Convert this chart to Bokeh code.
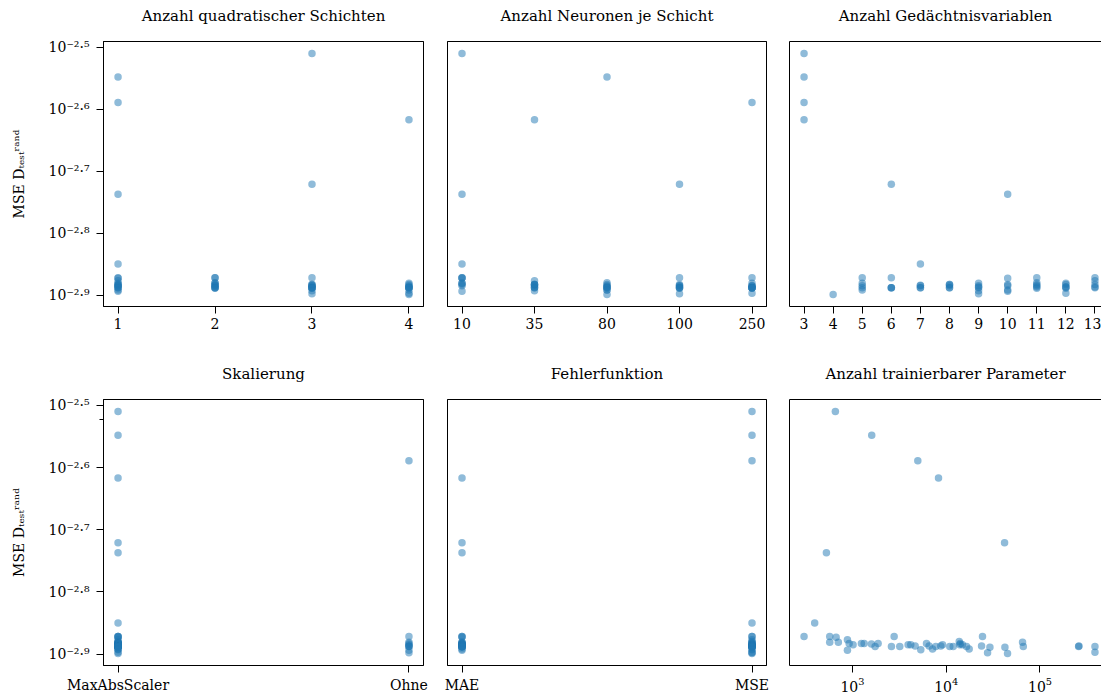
from bokeh.plotting import figure
from bokeh.layouts import row, column
from bokeh.models import FixedTicker, CustomJSTickFormatter, Range1d, LinearAxis, AllLabels
from bokeh.embed import file_html
from bokeh.resources import INLINE

# ---------------- data (one entry per trained model) ----------------
quad_layers = [3, 1, 1, 4, 3, 1, 1, 2, 1, 1,
               2, 3, 1, 2, 1, 2, 4, 1, 2, 3,
               4, 1, 3, 2, 1, 3, 4, 2, 3, 1,
               2, 4, 3, 1, 4, 3, 4, 1, 2, 3,
               4, 2, 1, 3, 4, 2, 3, 4, 1, 3,
               1, 4, 3, 4]
neurons = [10, 80, 250, 35, 100, 10, 10, 10, 10, 10,
           100, 250, 35, 80, 10, 10, 250, 10, 35, 35,
           35, 100, 80, 35, 10, 100, 80, 100, 250, 250,
           35, 80, 80, 100, 250, 35, 35, 80, 100, 80,
           100, 250, 250, 250, 250, 100, 250, 80, 80, 35,
           10, 250, 100, 80]
memory_vars = [3, 3, 3, 3, 6, 10, 7, 5, 6, 10,
               11, 13, 13, 11, 5, 9, 12, 8, 11, 13,
               12, 10, 8, 7, 5, 7, 8, 10, 9, 11,
               9, 12, 13, 11, 12, 6, 8, 7, 6, 5,
               8, 7, 6, 13, 9, 11, 12, 5, 10, 9,
               10, 12, 9, 4]
scaler = ["MaxAbsScaler", "MaxAbsScaler", "Ohne", "MaxAbsScaler", "MaxAbsScaler",
          "MaxAbsScaler", "MaxAbsScaler", "Ohne", "MaxAbsScaler", "MaxAbsScaler",
          "MaxAbsScaler", "MaxAbsScaler", "MaxAbsScaler", "MaxAbsScaler", "MaxAbsScaler",
          "Ohne", "MaxAbsScaler", "MaxAbsScaler", "MaxAbsScaler", "MaxAbsScaler",
          "Ohne", "MaxAbsScaler", "MaxAbsScaler", "MaxAbsScaler", "MaxAbsScaler",
          "Ohne", "MaxAbsScaler", "MaxAbsScaler", "MaxAbsScaler", "MaxAbsScaler",
          "MaxAbsScaler", "MaxAbsScaler", "Ohne", "MaxAbsScaler", "MaxAbsScaler",
          "MaxAbsScaler", "MaxAbsScaler", "MaxAbsScaler", "Ohne", "MaxAbsScaler",
          "MaxAbsScaler", "MaxAbsScaler", "Ohne", "MaxAbsScaler", "MaxAbsScaler",
          "MaxAbsScaler", "MaxAbsScaler", "MaxAbsScaler", "MaxAbsScaler", "MaxAbsScaler",
          "Ohne", "MaxAbsScaler", "Ohne", "MaxAbsScaler"]
loss_fn = ["MSE", "MSE", "MSE", "MAE", "MAE", "MAE", "MSE", "MAE", "MSE", "MAE",
           "MSE", "MAE", "MSE", "MSE", "MAE", "MSE", "MAE", "MSE", "MAE", "MSE",
           "MAE", "MSE", "MAE", "MAE", "MSE", "MAE", "MSE", "MAE", "MSE", "MAE",
           "MSE", "MAE", "MSE", "MAE", "MSE", "MAE", "MSE", "MAE", "MSE", "MSE",
           "MAE", "MSE", "MAE", "MSE", "MAE", "MSE", "MAE", "MSE", "MAE", "MSE",
           "MAE", "MSE", "MSE", "MSE"]
params = [658, 1607, 4980, 8280, 41900, 528, 396, 305, 573, 670,
          2786, 24378, 885, 13772, 573, 708, 65163, 923, 1247, 1334,
          1879, 6166, 14125, 1596, 1016, 3926, 4188, 9141, 13964, 14928,
          4667, 6577, 8750, 23823, 260016, 1746, 2606, 3199, 7745, 10914,
          11885, 16482, 66374, 258226, 385478, 29242, 42267, 7145, 17579, 5358,
          885, 385478, 27606, 45082]
mse_log10 = [-2.510, -2.548, -2.589, -2.617, -2.721, -2.737, -2.850, -2.872, -2.872, -2.873,
             -2.872, -2.872, -2.877, -2.880, -2.881, -2.881, -2.881, -2.883, -2.883, -2.883,
             -2.883, -2.883, -2.883, -2.884, -2.885, -2.885, -2.885, -2.885, -2.885, -2.885,
             -2.887, -2.887, -2.887, -2.887, -2.887, -2.888, -2.888, -2.888, -2.888, -2.888,
             -2.888, -2.888, -2.888, -2.888, -2.888, -2.889, -2.889, -2.892, -2.892, -2.893,
             -2.894, -2.897, -2.898, -2.899]

quad_ticks = [1, 2, 3, 4]
neuron_categories = [10, 35, 80, 100, 250]
memory_ticks = [3, 4, 5, 6, 7, 8, 9, 10, 11, 12, 13]
scaler_categories = ["MaxAbsScaler", "Ohne"]
loss_categories = ["MAE", "MSE"]
param_ticks = [1e3, 1e4, 1e5]
y_tick_exponents = [-2.9, -2.8, -2.7, -2.6, -2.5]
y_minor_ticks = [0.003]

titles = ["Anzahl quadratischer Schichten", "Anzahl Neuronen je Schicht", "Anzahl Gedächtnisvariablen",
          "Skalierung", "Fehlerfunktion", "Anzahl trainierbarer Parameter"]
y_label = "MSE Dₜₑₛₜʳᵃⁿᵈ"

# ---------------- styling ----------------
FONT = "DejaVu Serif"
BLUE = "#1f77b4"
mse = [10 ** e for e in mse_log10]
y_ticks = [10 ** e for e in y_tick_exponents]

lo, hi = min(mse_log10), max(mse_log10)
span = hi - lo
y_range = Range1d(10 ** (lo - 0.05 * span), 10 ** (hi + 0.05 * span))


def margin_range(vals, frac=1.0):
    a, b = min(vals), max(vals)
    s = b - a
    start = a - 0.05 * s
    return Range1d(start, start + 1.1 * s * frac)


def log_margin_range(vals, frac=1.0):
    import math
    lv = [math.log10(v) for v in vals]
    a, b = min(lv), max(lv)
    s = b - a
    start = a - 0.05 * s
    return Range1d(10 ** start, 10 ** (start + 1.1 * s * frac))


sup = CustomJSTickFormatter(code="""
const e = Math.log10(tick).toFixed(1);
const m = {'-':'\u207b','0':'\u2070','1':'\u00b9','2':'\u00b2','3':'\u00b3','4':'\u2074',
           '5':'\u2075','6':'\u2076','7':'\u2077','8':'\u2078','9':'\u2079','.':'\u00b7'};
return '10' + e.split('').map(c => m[c]).join('');
""")


def style_axis(ax):
    ax.axis_line_color = "black"
    ax.axis_line_width = 1
    ax.major_tick_line_color = "black"
    ax.major_tick_line_width = 1
    ax.major_tick_out = 7
    ax.major_tick_in = 0
    ax.minor_tick_line_color = None
    ax.major_label_text_font = FONT
    ax.major_label_text_font_size = "14px"
    ax.major_label_text_color = "black"
    ax.major_label_standoff = 4
    ax.major_label_policy = AllLabels()


def bare_axis(ax):
    ax.ticker = FixedTicker(ticks=[])
    ax.axis_line_color = "black"
    ax.axis_line_width = 1
    ax.major_tick_line_color = None
    ax.minor_tick_line_color = None
    ax.major_tick_out = 0
    ax.major_tick_in = 0
    ax.minor_tick_out = 0
    ax.minor_tick_in = 0


def make_fig(title, width, height, x_range, x_log, borders, y_mode, x_ticker, x_overrides=None):
    left, right, top, bottom = borders
    p = figure(width=width, height=height, x_range=x_range, y_range=y_range,
               x_axis_type="log" if x_log else "linear", y_axis_type="log",
               y_axis_location=None if y_mode == "none" else "left",
               toolbar_location=None, output_backend="svg",
               min_border_left=left, min_border_right=right,
               min_border_top=top, min_border_bottom=bottom,
               title=None)
    p.xgrid.visible = False
    p.ygrid.visible = False
    p.background_fill_color = "white"
    p.border_fill_color = "white"
    p.outline_line_color = "black"
    p.outline_line_width = 1
    p.outline_line_alpha = 1
    xax = p.below[0]
    style_axis(xax)
    xax.ticker = x_ticker
    if x_overrides:
        xax.major_label_overrides = x_overrides
    if y_mode in ("labels", "labels_minor"):
        ax = p.left[0]
        style_axis(ax)
        ax.major_label_standoff = 7
        ax.ticker = FixedTicker(ticks=y_ticks,
                                minor_ticks=y_minor_ticks if y_mode == "labels_minor" else [])
        ax.formatter = sup
        if y_mode == "labels_minor":
            ax.minor_tick_line_color = "black"
            ax.minor_tick_out = 4
            ax.minor_tick_in = 0
        ax.axis_label = y_label
        ax.axis_label_text_font = FONT
        ax.axis_label_text_font_size = "14px"
        ax.axis_label_text_font_style = "normal"
        ax.axis_label_text_color = "black"
        ax.axis_label_standoff = 19
    elif y_mode == "line":
        bare_axis(p.left[0])
        p.outline_line_color = None
    # panel heading: label of a bare axis along the top edge of the frame
    top_ax = LinearAxis()
    bare_axis(top_ax)
    top_ax.axis_label = title
    top_ax.axis_label_text_font = FONT
    top_ax.axis_label_text_font_size = "15px"
    top_ax.axis_label_text_font_style = "normal"
    top_ax.axis_label_text_color = "black"
    top_ax.axis_label_standoff = 17
    p.add_layout(top_ax, "above")
    p.scatter(x=x_values[title], y=mse, size=7.5, marker="circle",
              fill_color=BLUE, fill_alpha=0.5, line_color=None)
    return p


x_values = {
    titles[0]: quad_layers,
    titles[1]: [neuron_categories.index(n) for n in neurons],
    titles[2]: memory_vars,
    titles[3]: [scaler_categories.index(s) for s in scaler],
    titles[4]: [loss_categories.index(l) for l in loss_fn],
    titles[5]: params,
}

CUT = 312 / 320  # third column runs past the page edge

W1, W2, W3 = 435, 342, 324
H1, H2 = 350, 347

f1 = make_fig(titles[0], W1, H1, margin_range(quad_layers), False, (103, 12, 41, 44), "labels",
              FixedTicker(ticks=quad_ticks))
f2 = make_fig(titles[1], W2, H1, margin_range(x_values[titles[1]]), False, (12, 11, 41, 44), "none",
              FixedTicker(ticks=list(range(len(neuron_categories)))),
              {i: str(c) for i, c in enumerate(neuron_categories)})
f3 = make_fig(titles[2], W3, H1, margin_range(memory_vars, CUT), False, (12, 0, 41, 44), "line",
              FixedTicker(ticks=memory_ticks))
f4 = make_fig(titles[3], W1, H2, margin_range(x_values[titles[3]]), False, (103, 12, 49, 32), "labels_minor",
              FixedTicker(ticks=list(range(len(scaler_categories)))),
              {i: c for i, c in enumerate(scaler_categories)})
f5 = make_fig(titles[4], W2, H2, margin_range(x_values[titles[4]]), False, (12, 11, 49, 32), "none",
              FixedTicker(ticks=list(range(len(loss_categories)))),
              {i: c for i, c in enumerate(loss_categories)})
f6 = make_fig(titles[5], W3, H2, log_margin_range(params, CUT), True, (12, 0, 49, 32), "line",
              FixedTicker(ticks=param_ticks))

layout = column(row(f1, f2, f3), row(f4, f5, f6))

html = file_html(layout, INLINE)
html = html.replace("</head>", "<style>html,body{overflow:hidden;}</style></head>", 1)
open("out.html", "w").write(html)
